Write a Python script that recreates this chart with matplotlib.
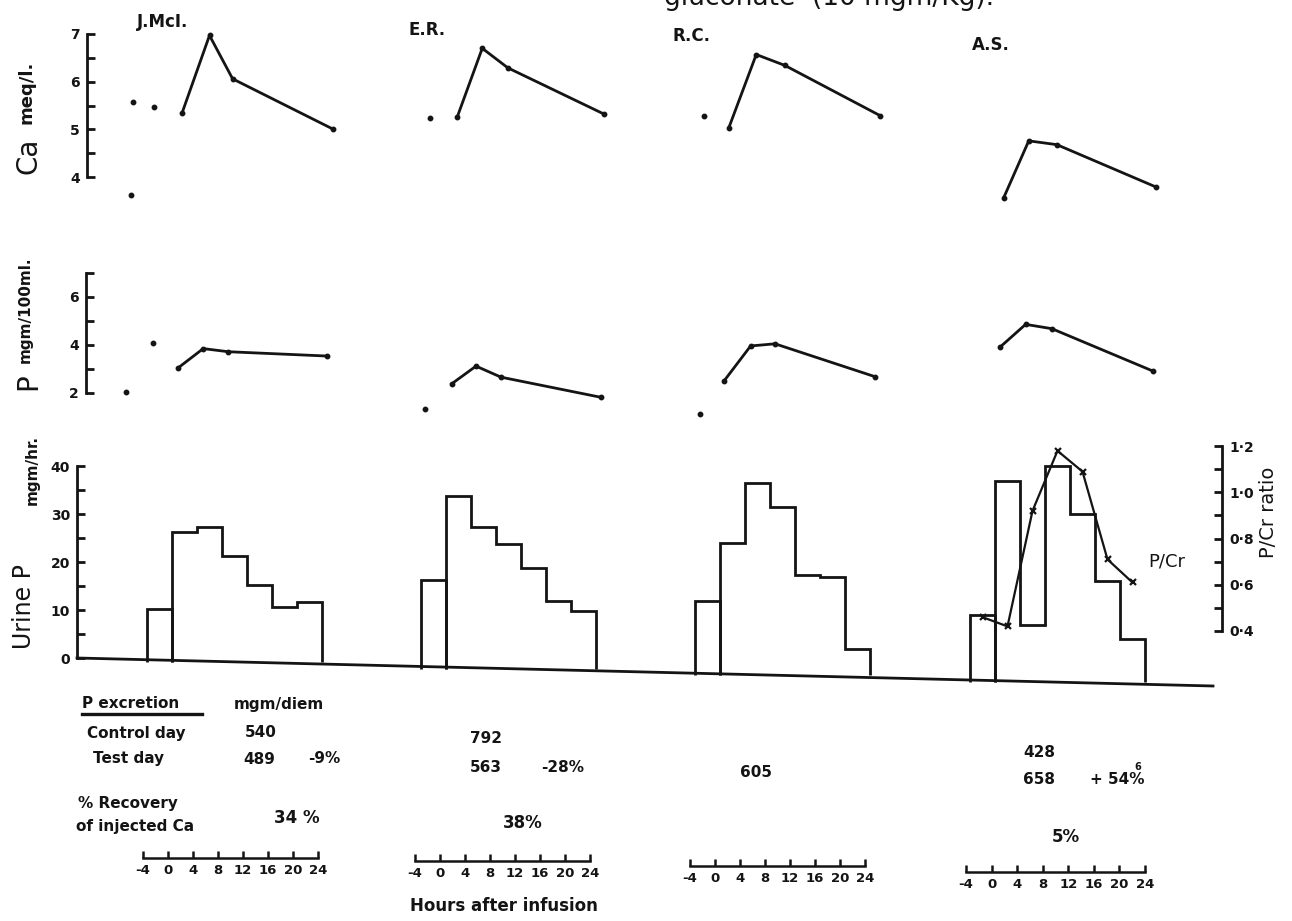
import matplotlib
matplotlib.use('Agg')
import matplotlib.pyplot as plt
from matplotlib.lines import Line2D

# ---- data -------------------------------------------------------------
subjects = ['J.McI.', 'E.R.', 'R.C.', 'A.S.']

# serum Ca (meq/l.): separate control dots, then the joined post-infusion run
ca_ctrl_hours = [[-6.3, -2.9, -6.5], [-2.6], [-2.6], []]
ca_ctrl_vals = [[5.57, 5.47, 3.63], [5.24], [5.29], []]
ca_hours = [[1.6, 6.0, 9.7, 25.7], [1.8, 5.8, 9.9, 25.3],
            [1.4, 5.8, 10.4, 25.6], [1.4, 5.4, 9.9, 25.8]]
ca_vals = [[5.34, 6.97, 6.06, 5.01], [5.26, 6.70, 6.29, 5.32],
           [5.03, 6.57, 6.34, 5.29], [3.57, 4.76, 4.68, 3.79]]

# serum P (mgm/100ml.)
p_ctrl_hours = [[-7.4, -3.0], [-3.4], [-3.2], []]
p_ctrl_vals = [[2.03, 4.07], [1.33], [1.13], []]
p_hours = [[1.0, 5.0, 9.0, 24.8], [0.9, 4.8, 8.8, 24.8],
           [0.7, 4.9, 8.8, 24.8], [0.8, 4.9, 9.1, 25.3]]
p_vals = [[3.05, 3.85, 3.72, 3.54], [2.38, 3.12, 2.66, 1.82],
          [2.52, 3.96, 4.05, 2.68], [3.91, 4.86, 4.68, 2.91]]

# urine P (mgm/hr.) in 4-hour collections
urine_edges = [-4, 0, 4, 8, 12, 16, 20, 24]
urine_p = [[11, 27, 28, 22, 16, 11.5, 12.5],
           [18.5, 36, 29.5, 26, 21, 14, 12],
           [15.5, 27.5, 40, 35, 21, 20.5, 5.5],
           [14, 42, 12, 45, 35, 21, 9]]

# P/Cr ratio for A.S., at the middle of each collection
pcr_hours = [-2, 2, 6, 10, 14, 18, 22]
pcr_vals = [0.46, 0.42, 0.92, 1.18, 1.09, 0.71, 0.61]

# P excretion table
control_day = ['540', '792', '', '428']
test_day = ['489', '563', '605', '658']
change = ['-9%', '-28%', '', '+ 54%']
recovery = ['34 %', '38%', '', '5%']

time_ticks = [-4, 0, 4, 8, 12, 16, 20, 24]

# ---- figure -----------------------------------------------------------
W, H = 1292, 921
plt.rcParams['font.family'] = 'DejaVu Sans'
plt.rcParams['font.weight'] = 'bold'
plt.rcParams['axes.unicode_minus'] = False
INK = '#141414'

fig = plt.figure(figsize=(W / 100, H / 100), dpi=100)
fig.patch.set_facecolor('white')


def box(left, top, right, bottom):
    # axes from a pixel box, measured from the top-left corner
    return fig.add_axes([left / W, 1 - bottom / H, (right - left) / W, (bottom - top) / H])


def ftext(x, y, s, **kw):
    kw.setdefault('color', INK)
    return fig.text(x / W, 1 - y / H, s, **kw)


h0 = [147, 421, 695, 970]   # pixel of hour -4 for each subject
pph = 6.25                  # pixels per hour


def data_axes(i, v_lo, v_hi, y_of):
    h_lo, h_hi = -9, 28
    ax = box(h0[i] + (h_lo + 4) * pph, y_of(v_hi), h0[i] + (h_hi + 4) * pph, y_of(v_lo))
    ax.set_xlim(h_lo, h_hi)
    ax.set_ylim(v_lo, v_hi)
    ax.axis('off')
    return ax


def ca_y(v):
    return 34 + (7 - v) * 47.7


def p_y(v):
    return 393 - (v - 2) * 24


def pcr_y(r):
    return 631 - (r - 0.4) * 231


def base_y(x):
    return 658 + (x - 77) * 28 / 1136


def scale_axis(x, y_of, lo, hi, major, labels, minor, side='left'):
    if side == 'left':
        ax = box(x, y_of(hi), x + 40, y_of(lo))
    else:
        ax = box(x - 40, y_of(hi), x, y_of(lo))
    ax.set_ylim(lo, hi)
    ax.set_xlim(0, 1)
    ax.patch.set_visible(False)
    for s in ['top', 'right', 'bottom', 'left']:
        ax.spines[s].set_visible(s == side)
    ax.spines[side].set_linewidth(2)
    ax.spines[side].set_color(INK)
    ax.set_xticks([])
    if side == 'right':
        ax.yaxis.tick_right()
    ax.set_yticks(major)
    ax.set_yticklabels(labels)
    ax.set_yticks(minor, minor=True)
    ax.tick_params(axis='y', which='both', direction='in', length=6, width=2,
                   colors=INK, labelsize=10, pad=5)
    return ax


def time_scale(x_left, x_right, y):
    ax = box(x_left, y - 10, x_right, y)
    ax.set_xlim(-4, 24)
    ax.patch.set_visible(False)
    for s in ['top', 'right', 'left']:
        ax.spines[s].set_visible(False)
    ax.spines['bottom'].set_linewidth(1.8)
    ax.spines['bottom'].set_color(INK)
    ax.set_yticks([])
    ax.set_xticks(time_ticks)
    ax.tick_params(axis='x', direction='in', length=5, width=1.8, colors=INK,
                   labelsize=9.5, pad=4)
    return ax


# panels for each subject
name_pos = [(137, 22), (408, 30), (672, 36), (972, 45)]
for i, name in enumerate(subjects):
    ftext(*name_pos[i], name, fontsize=12, va='center')

    ax = data_axes(i, 3.0, 7.5, ca_y)
    ax.plot(ca_ctrl_hours[i], ca_ctrl_vals[i], 'o', ms=3.2, color=INK, clip_on=False)
    ax.plot(ca_hours[i], ca_vals[i], '-o', ms=3.2, lw=2, color=INK, clip_on=False)

    ax = data_axes(i, 1.0, 7.0, p_y)
    ax.plot(p_ctrl_hours[i], p_ctrl_vals[i], 'o', ms=3.2, color=INK, clip_on=False)
    ax.plot(p_hours[i], p_vals[i], '-o', ms=3.2, lw=2, color=INK, clip_on=False)

    b = base_y(h0[i] + 14 * pph)
    ax = data_axes(i, -2, 48, lambda v, b=b: b - v * 4.8)
    ax.stairs(urine_p[i][:1], urine_edges[:2], baseline=0, color=INK, lw=2)
    ax.stairs(urine_p[i][1:], urine_edges[1:], baseline=0, color=INK, lw=2)

ax = data_axes(3, 0.3, 1.3, pcr_y)
ax.plot(pcr_hours, pcr_vals, '-x', ms=4.5, mew=1.6, lw=1.6, color=INK, clip_on=False)
ftext(1148, 561, 'P/Cr', fontsize=13, fontweight='normal', va='center')

# urine baseline running under all four histograms
fig.add_artist(Line2D([77 / W, 1213 / W], [1 - 658 / H, 1 - 686 / H],
                      transform=fig.transFigure, color=INK, lw=2))

# scales
scale_axis(87, ca_y, 4, 7, [4, 5, 6, 7], ['4', '5', '6', '7'], [4.5, 5.5, 6.5])
scale_axis(86, p_y, 2, 7, [2, 4, 6], ['2', '4', '6'], [3, 5, 7])
scale_axis(77, lambda v: 658 - v * 4.8, 0, 40, [0, 10, 20, 30, 40],
           ['0', '10', '20', '30', '40'], [5, 15, 25, 35])
scale_axis(1222, pcr_y, 0.4, 1.2, [0.4, 0.6, 0.8, 1.0, 1.2],
           ['0·4', '0·6', '0·8', '1·0', '1·2'], [0.5, 0.7, 0.9, 1.1], side='right')

for xl, xr, y in [(143, 318, 858), (415, 590, 861), (690, 865, 866), (966, 1145, 872)]:
    time_scale(xl, xr, y)

# axis titles
ftext(28, 156, 'Ca', rotation=90, fontsize=20, fontweight='normal', ha='center', va='center')
ftext(27, 92, 'meq/l.', rotation=90, fontsize=13, ha='center', va='center')
ftext(28, 382, 'P', rotation=90, fontsize=20, fontweight='normal', ha='center', va='center')
ftext(25, 310, 'mgm/100ml.', rotation=90, fontsize=11, ha='center', va='center')
ftext(24, 607, 'Urine P', rotation=90, fontsize=17, fontweight='normal', ha='center', va='center')
ftext(32, 470, 'mgm/hr.', rotation=90, fontsize=11, ha='center', va='center')
ftext(1268, 512, 'P/Cr ratio', rotation=90, fontsize=14, fontweight='normal',
      ha='center', va='center')

# heading, running off the top edge
ftext(664, 5, 'gluconate  (10 mgm/Kg).', fontsize=19, fontweight='normal', va='baseline')

# P excretion table
ftext(82, 703, 'P excretion', fontsize=11, va='center')
fig.add_artist(Line2D([82 / W, 202 / W], [1 - 714 / H, 1 - 714 / H],
                      transform=fig.transFigure, color=INK, lw=2.4))
ftext(234, 704, 'mgm/diem', fontsize=11, va='center')
ftext(87, 733, 'Control day', fontsize=11, va='center')
ftext(93, 758, 'Test day', fontsize=11, va='center')
ftext(78, 803, '% Recovery', fontsize=11, va='center')
ftext(76, 826, 'of injected Ca', fontsize=11, va='center')

ctrl_pos = [(245, 732), (470, 738), None, (1023, 752)]
test_pos = [(243, 759), (470, 767), (740, 772), (1023, 779)]
chg_pos = [(308, 758), (541, 767), None, (1090, 779)]
rec_pos = [(274, 818), (503, 823), None, (1052, 837)]
for i in range(4):
    if control_day[i]:
        ftext(*ctrl_pos[i], control_day[i], fontsize=11, va='center')
    ftext(*test_pos[i], test_day[i], fontsize=11, va='center')
    if change[i]:
        ftext(*chg_pos[i], change[i], fontsize=11, va='center')
    if recovery[i]:
        ftext(*rec_pos[i], recovery[i], fontsize=12, va='center')
# small correction figure written over the A.S. percentage
ftext(1134, 767, '6', fontsize=7, va='center')

ftext(410, 906, 'Hours after infusion', fontsize=12, va='center')

fig.savefig('out.png', dpi=100, facecolor='white')
